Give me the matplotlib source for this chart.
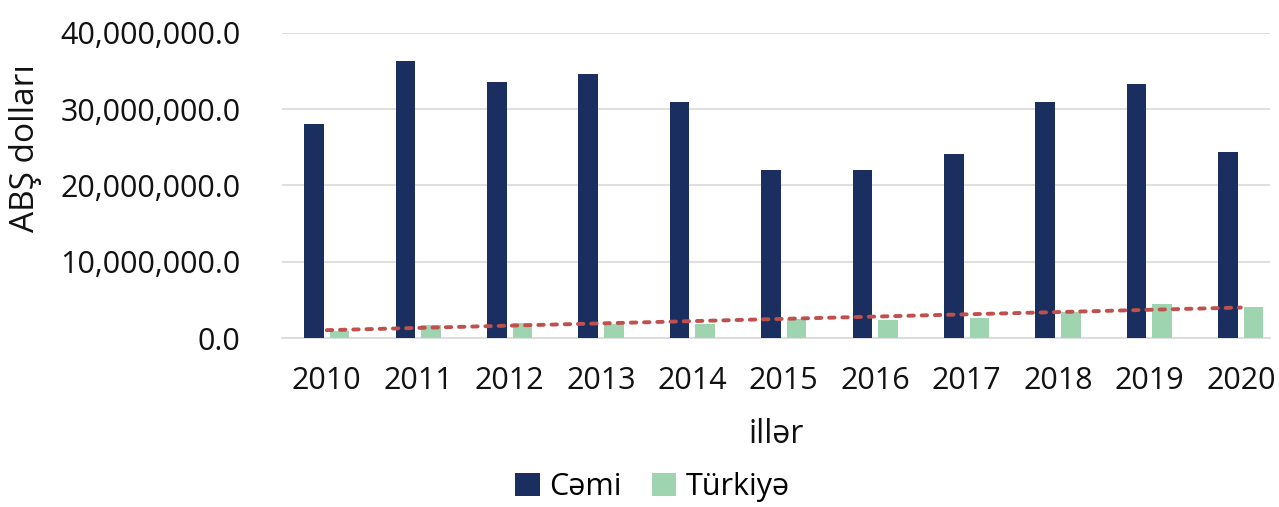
import matplotlib.pyplot as plt
import numpy as np
from matplotlib.ticker import FuncFormatter

years = ['2010', '2011', '2012', '2013', '2014', '2015',
         '2016', '2017', '2018', '2019', '2020']
cemi = [28.0, 36.3, 33.6, 34.6, 31.0, 22.0, 22.0, 24.1, 30.9, 33.3, 24.4]
turkiye = [0.95, 1.7, 2.0, 1.9, 1.8, 2.5, 2.3, 2.6, 3.4, 4.4, 4.1]

plt.rcParams['font.family'] = ['Open Sans', 'DejaVu Sans']

fig = plt.figure(figsize=(12.79, 5.07), dpi=100)
ax = fig.add_axes([0.2205, 0.3333, 0.7725, 0.6017])

x = np.arange(len(years))
cemi_vals = np.array(cemi) * 1e6
turk_vals = np.array(turkiye) * 1e6

ax.bar(x - 0.14, cemi_vals, width=0.215, color='#1a2f5f', label='Cəmi', zorder=3)
ax.bar(x + 0.14, turk_vals, width=0.215, color='#9fd4b0', label='Türkiyə', zorder=3)

# linear trend of Türkiyə
k, b = np.polyfit(x, turk_vals, 1)
ax.plot(x, k * x + b, color='#c0504d', linestyle=(0, (1.4, 2.0)),
        linewidth=2.8, dash_capstyle='round', zorder=4)

ax.set_xlim(-0.49, 10.32)
ax.set_ylim(0, 40e6)
ax.set_yticks(np.arange(0, 40e6 + 1, 10e6))
ax.yaxis.set_major_formatter(FuncFormatter(lambda v, p: '{:,.1f}'.format(v)))
ax.set_xticks(x)
ax.set_xticklabels(years)

ax.grid(axis='y', color='#d9d9d9', linewidth=1.2, zorder=0)
for s in ['top', 'right', 'left']:
    ax.spines[s].set_visible(False)
ax.spines['bottom'].set_color('#d9d9d9')
ax.spines['bottom'].set_linewidth(1.2)
ax.tick_params(axis='both', length=0, labelsize=22, colors='#111111')
ax.tick_params(axis='x', pad=20)
ax.tick_params(axis='y', pad=30)

ax.set_xlabel('illər', fontsize=23, color='#111111', labelpad=16)
ax.set_ylabel('ABŞ dolları', fontsize=24, color='#111111')
ax.yaxis.set_label_coords(-0.243, 0.623)

fig.legend(loc='lower center', bbox_to_anchor=(0.51, -0.045), ncol=2, frameon=False,
           fontsize=22, handlelength=0.8, handleheight=0.8, columnspacing=1.0,
           handletextpad=0.3)

fig.savefig('out.png', dpi=100)
